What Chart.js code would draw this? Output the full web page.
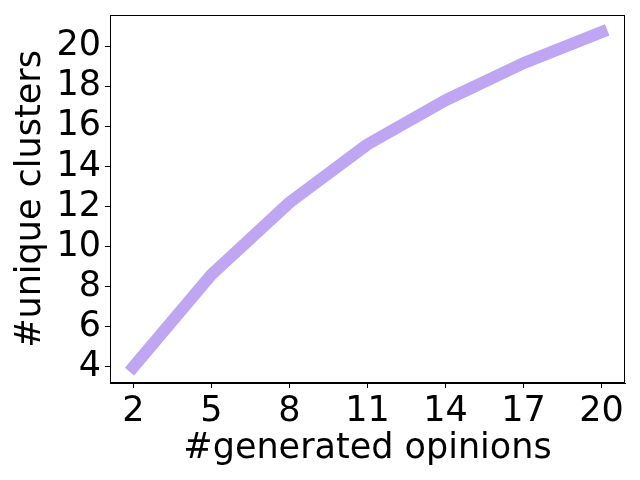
<!DOCTYPE html>
<html>
<head>
<meta charset="utf-8">
<script src="https://cdn.jsdelivr.net/npm/chart.js@4/dist/chart.umd.min.js"></script>
<style>
  html, body { margin: 0; padding: 0; background: #fff; }
  #chart { display: block; }
</style>
</head>
<body>
<canvas id="chart" width="640" height="480"></canvas>
<script>
// values
const opinions = [2, 5, 8, 11, 14, 17, 20];
const uniqueClusters = [4.0, 8.6, 12.2, 15.1, 17.3, 19.15, 20.7];
const xTicks = [2, 5, 8, 11, 14, 17, 20];
const yTicks = [4, 6, 8, 10, 12, 14, 16, 18, 20];

const fontFamily = "'DejaVu Sans', sans-serif";

// box around the plot area (matplotlib style frame)
const frame = {
    id: 'frame',
    afterDraw(chart) {
        const { ctx, chartArea: a } = chart;
        ctx.save();
        ctx.strokeStyle = '#000';
        ctx.lineWidth = 1;
        ctx.strokeRect(a.left + 0.5, a.top + 0.5, a.right - a.left - 1, a.bottom - a.top - 1);
        ctx.restore();
    }
};

const ctx = document.getElementById('chart').getContext('2d');
new Chart(ctx, {
    type: 'line',
    data: {
        datasets: [{
            data: opinions.map((x, i) => ({ x: x, y: uniqueClusters[i] })),
            borderColor: '#bea6f2',
            borderWidth: 12,
            borderCapStyle: 'square',
            borderJoinStyle: 'round',
            pointRadius: 0,
            tension: 0,
            fill: false
        }]
    },
    options: {
        responsive: false,
        animation: false,
        layout: { padding: { left: 0, right: 15, top: 15, bottom: 0 } },
        plugins: {
            legend: { display: false },
            tooltip: { enabled: false }
        },
        scales: {
            x: {
                type: 'linear',
                min: 1.1,
                max: 20.9,
                afterBuildTicks: (scale) => { scale.ticks = xTicks.map(v => ({ value: v })); },
                afterFit: (scale) => {
                    scale.height = 97;
                    scale.paddingLeft = 0;
                    scale.paddingRight = 0;
                },
                grid: { drawOnChartArea: false, drawTicks: true, tickLength: 5, color: '#000' },
                border: { display: true, color: '#000' },
                ticks: {
                    color: '#000',
                    padding: 3,
                    maxRotation: 0,
                    autoSkip: false,
                    font: { family: fontFamily, size: 35 }
                },
                title: {
                    display: true,
                    text: '#generated opinions',
                    color: '#000',
                    padding: { top: 0, bottom: 10 },
                    font: { family: fontFamily, size: 35 }
                }
            },
            y: {
                type: 'linear',
                min: 3.2,
                max: 21.55,
                afterBuildTicks: (scale) => { scale.ticks = yTicks.map(v => ({ value: v })); },
                afterFit: (scale) => {
                    scale.width = 110;
                    scale.paddingTop = 0;
                    scale.paddingBottom = 0;
                },
                grid: { drawOnChartArea: false, drawTicks: true, tickLength: 5, color: '#000' },
                border: { display: true, color: '#000' },
                ticks: {
                    color: '#000',
                    padding: 4,
                    autoSkip: false,
                    font: { family: fontFamily, size: 35 }
                },
                title: {
                    display: true,
                    text: '#unique clusters',
                    color: '#000',
                    padding: { top: 10, bottom: 0 },
                    font: { family: fontFamily, size: 35 }
                }
            }
        }
    },
    plugins: [frame]
});
</script>
</body>
</html>
